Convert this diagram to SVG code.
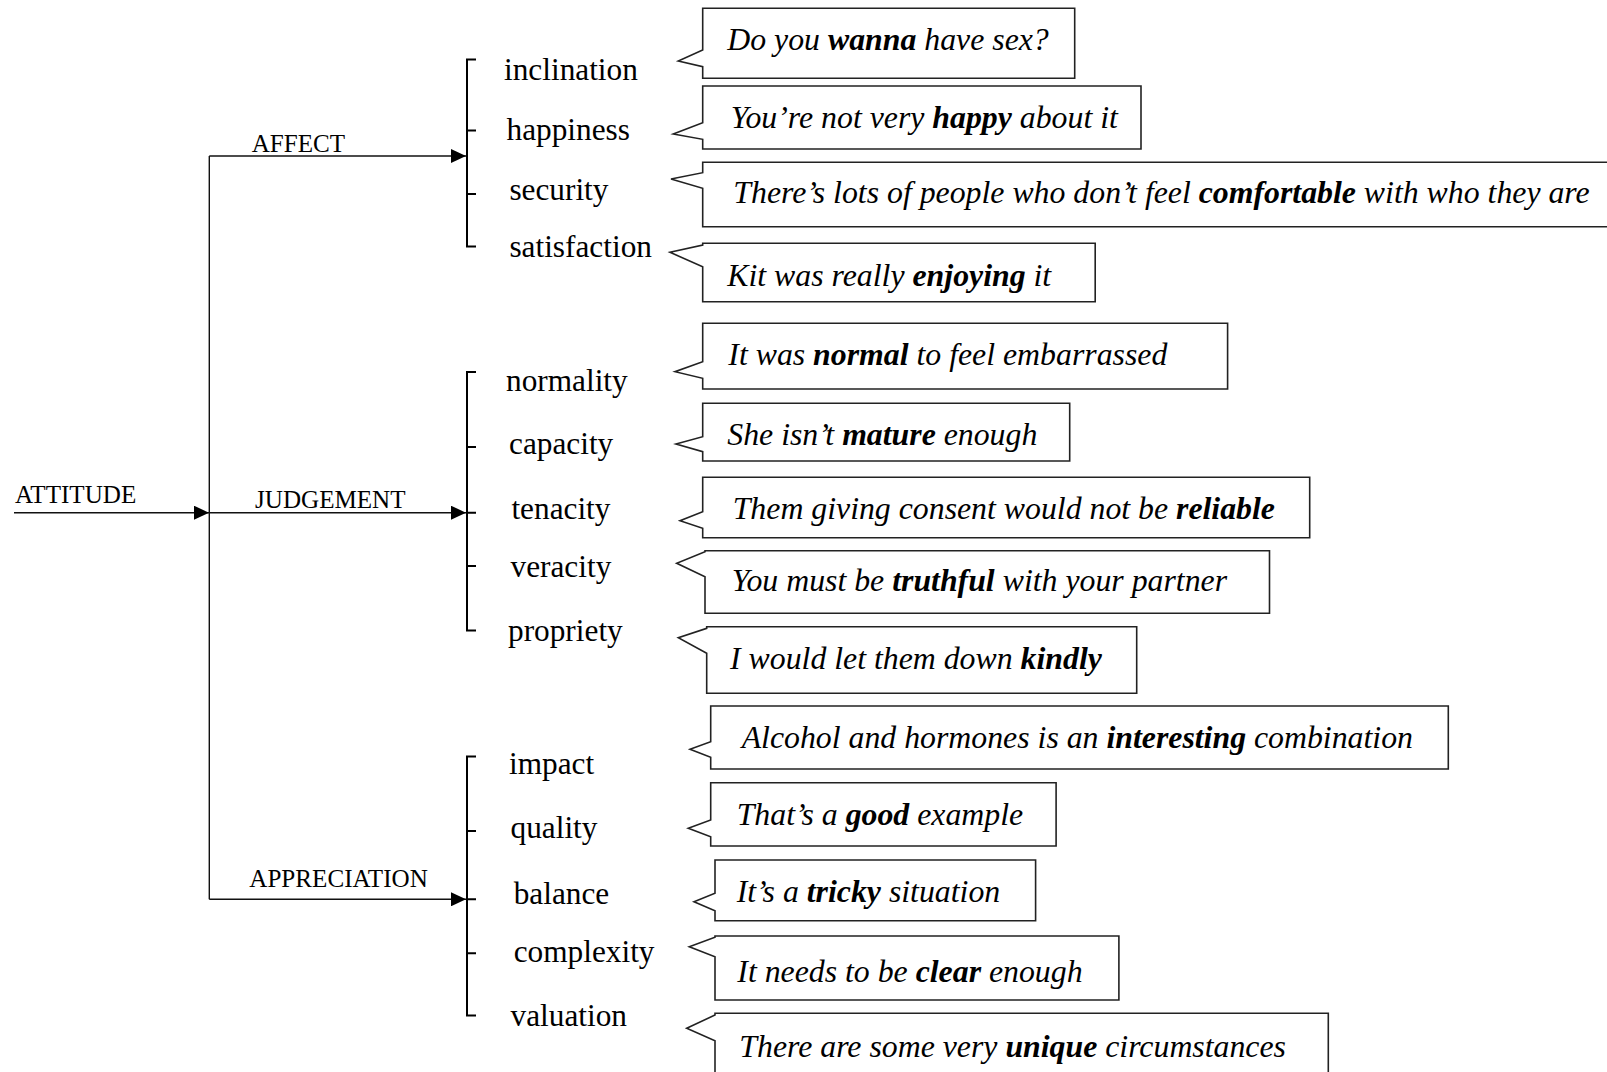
<svg xmlns="http://www.w3.org/2000/svg" width="1607" height="1072" viewBox="0 0 1607 1072">
  <style>
    .cat { font-family: "Liberation Serif", "Times New Roman", serif; font-size: 25.1px; fill: #000; }
    .item { font-family: "Liberation Serif", "Times New Roman", serif; font-size: 31.3px; fill: #000; }
    .quote { font-family: "Liberation Serif", "Times New Roman", serif; font-size: 31.8px; font-style: italic; fill: #000; }
    .b { font-weight: bold; }
    .box { fill: #fff; stroke: #222; stroke-width: 1.6; }
    .link { stroke: #111; stroke-width: 1.4; fill: none; }
    .brace { stroke: #000; stroke-width: 2; fill: none; }
  </style>
  <defs>
    <marker id="arrow" viewBox="0 0 15 14" refX="15" refY="7" markerWidth="15" markerHeight="14" markerUnits="userSpaceOnUse" orient="auto">
      <path d="M0 0 L15 7 L0 14 Z" fill="#000"/>
    </marker>
  </defs>

  <rect width="1607" height="1072" fill="#fff"/>

  <!-- connectors: root line, trunk and the three system branches -->
  <g id="connectors">
    <path class="link" d="M14 512.7 H209" marker-end="url(#arrow)"/>
    <path class="link" d="M209.3 156 V899.3"/>
    <path class="link" d="M209.3 156 H466" marker-end="url(#arrow)"/>
    <path class="link" d="M209.3 512.7 H466" marker-end="url(#arrow)"/>
    <path class="link" d="M209.3 899.3 H466" marker-end="url(#arrow)"/>
  </g>

  <!-- root and system labels -->
  <g id="attitude"><text class="cat" x="15" y="503">ATTITUDE</text></g>
  <g id="affect"><text class="cat" x="251.7" y="151.7">AFFECT</text></g>
  <g id="judgement"><text class="cat" x="255" y="508">JUDGEMENT</text></g>
  <g id="appreciation"><text class="cat" x="249.3" y="887">APPRECIATION</text></g>

  <!-- brackets grouping the subtypes -->
  <g id="affect-bracket">
    <path class="brace" d="M476 59.4 H467 V246.5 H476 M467 130.5 H476 M467 194 H476"/>
  </g>
  <g id="judgement-bracket">
    <path class="brace" d="M476 372 H467 V630.5 H476 M467 447 H476 M467 512.7 H476 M467 566 H476"/>
  </g>
  <g id="appreciation-bracket">
    <path class="brace" d="M476 756.4 H467 V1015.5 H476 M467 831 H476 M467 899.3 H476 M467 953.3 H476"/>
  </g>

  <!-- subtype labels -->
  <g id="inclination"><text class="item" x="504" y="80">inclination</text></g>
  <g id="happiness"><text class="item" x="506.5" y="140">happiness</text></g>
  <g id="security"><text class="item" x="509.4" y="200">security</text></g>
  <g id="satisfaction"><text class="item" x="509.4" y="256.5">satisfaction</text></g>
  <g id="normality"><text class="item" x="506" y="390.5">normality</text></g>
  <g id="capacity"><text class="item" x="509" y="454">capacity</text></g>
  <g id="tenacity"><text class="item" x="511.4" y="518.5">tenacity</text></g>
  <g id="veracity"><text class="item" x="510.5" y="577">veracity</text></g>
  <g id="propriety"><text class="item" x="508" y="641">propriety</text></g>
  <g id="impact"><text class="item" x="509" y="774">impact</text></g>
  <g id="quality"><text class="item" x="510.5" y="838">quality</text></g>
  <g id="balance"><text class="item" x="513.7" y="903.5">balance</text></g>
  <g id="complexity"><text class="item" x="513.7" y="962">complexity</text></g>
  <g id="valuation"><text class="item" x="510.5" y="1025.5">valuation</text></g>

  <!-- example callouts: box outline with a pointer notch on the left side -->
  <g id="ex-inclination">
    <path class="box" d="M702.7 8.3 H1074.7 V78.3 H702.7 V66.7 L678.3 61 L702.7 50 Z"/>
    <text class="quote" x="727.3" y="50">Do you <tspan class="b">wanna</tspan> have sex?</text>
  </g>
  <g id="ex-happiness">
    <path class="box" d="M702.7 86 H1141 V149 H702.7 V139.3 L673.3 134 L702.7 122.7 Z"/>
    <text class="quote" x="730.7" y="128">You’re not very <tspan class="b">happy</tspan> about it</text>
  </g>
  <g id="ex-security">
    <path class="box" d="M702.7 162.3 H1612 V226.7 H702.7 V188.3 L671 179 L702.7 172.7 Z"/>
    <text class="quote" x="733.3" y="202.5">There’s lots of people who don’t feel <tspan class="b">comfortable</tspan> with who they are</text>
  </g>
  <g id="ex-satisfaction">
    <path class="box" d="M702.7 243.3 H1095.2 V301.7 H702.7 V266.7 L670 252.3 L702.7 245 Z"/>
    <text class="quote" x="727.3" y="286">Kit was really <tspan class="b">enjoying</tspan> it</text>
  </g>
  <g id="ex-normality">
    <path class="box" d="M702.7 323.3 H1227.6 V389 H702.7 V378.3 L675 371.7 L702.7 361.7 Z"/>
    <text class="quote" x="728.3" y="365">It was <tspan class="b">normal</tspan> to feel embarrassed</text>
  </g>
  <g id="ex-capacity">
    <path class="box" d="M702.7 403.3 H1069.7 V461 H702.7 V451.7 L676 444 L702.7 436.7 Z"/>
    <text class="quote" x="727.3" y="444.5">She isn’t <tspan class="b">mature</tspan> enough</text>
  </g>
  <g id="ex-tenacity">
    <path class="box" d="M702.7 477.3 H1309.7 V537.7 H702.7 V528.3 L680 520.7 L702.7 511.7 Z"/>
    <text class="quote" x="732.7" y="519">Them giving consent would not be <tspan class="b">reliable</tspan></text>
  </g>
  <g id="ex-veracity">
    <path class="box" d="M705 550.7 H1269.5 V613.3 H705 V576.7 L676.7 563.3 L705 551.7 Z"/>
    <text class="quote" x="731.7" y="591">You must be <tspan class="b">truthful</tspan> with your partner</text>
  </g>
  <g id="ex-propriety">
    <path class="box" d="M706.7 626.7 H1136.7 V693.3 H706.7 V653.3 L678.3 637.7 L706.7 628.3 Z"/>
    <text class="quote" x="730" y="668.5">I would let them down <tspan class="b">kindly</tspan></text>
  </g>
  <g id="ex-impact">
    <path class="box" d="M710.7 706 H1448.3 V769 H710.7 V757.3 L690 749.3 L710.7 741.7 Z"/>
    <text class="quote" x="741.7" y="748">Alcohol and hormones is an <tspan class="b">interesting</tspan> combination</text>
  </g>
  <g id="ex-quality">
    <path class="box" d="M710.7 782.7 H1056.1 V846 H710.7 V836.7 L688.3 828.3 L710.7 820 Z"/>
    <text class="quote" x="736.7" y="825">That’s a <tspan class="b">good</tspan> example</text>
  </g>
  <g id="ex-balance">
    <path class="box" d="M715 860 H1035.6 V920.7 H715 V910.7 L694 901.7 L715 893.3 Z"/>
    <text class="quote" x="736.7" y="901.5">It’s a <tspan class="b">tricky</tspan> situation</text>
  </g>
  <g id="ex-complexity">
    <path class="box" d="M715 936 H1118.9 V1000 H715 V956.7 L689.3 946.7 L715 937.3 Z"/>
    <text class="quote" x="737.3" y="982">It needs to be <tspan class="b">clear</tspan> enough</text>
  </g>
  <g id="ex-valuation">
    <path class="box" d="M715 1013.3 H1328.3 V1076 H715 V1040.7 L686.7 1028.3 L715 1015 Z"/>
    <text class="quote" x="739.3" y="1056.7">There are some very <tspan class="b">unique</tspan> circumstances</text>
  </g>
</svg>
